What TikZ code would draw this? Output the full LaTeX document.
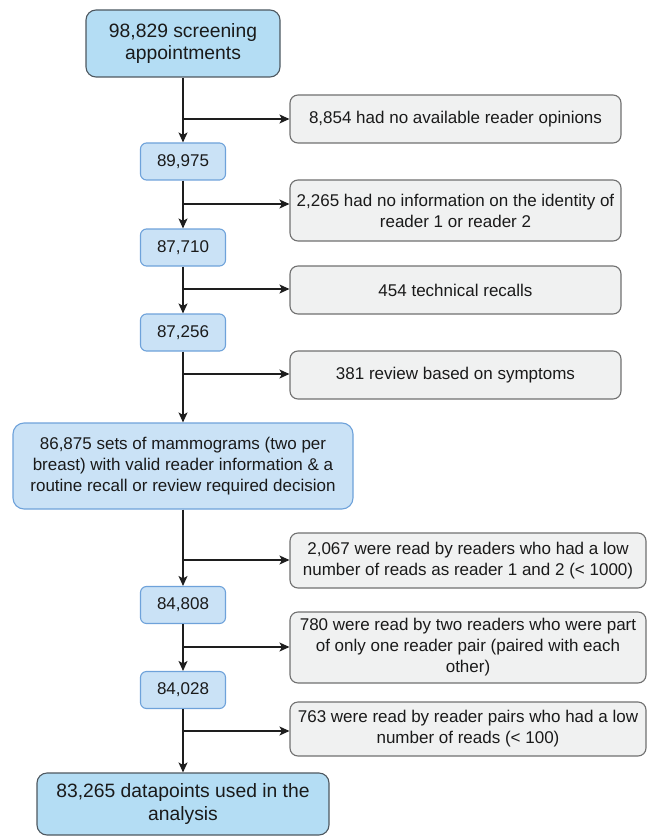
\documentclass[tikz,border=0pt]{standalone}
\usepackage{fontspec}
\setmainfont{Liberation Sans}
\usetikzlibrary{arrows.meta}
\definecolor{endfill}{HTML}{B4DDF4}
\definecolor{enddraw}{HTML}{4E5860}
\definecolor{midfill}{HTML}{CAE2F6}
\definecolor{middraw}{HTML}{6EA2DA}
\definecolor{sidefill}{HTML}{F0F1F1}
\definecolor{sidedraw}{HTML}{707070}
\definecolor{linecol}{HTML}{1E1E1E}
\definecolor{txt}{HTML}{1A1A1A}
\tikzset{
  base/.style={rectangle, inner sep=0pt, align=center, text=txt, line width=1.1pt,
    font=\fontsize{17}{21}\selectfont},
  endbox/.style={base, fill=endfill, draw=enddraw, rounded corners=10pt,
    font=\fontsize{19.3}{22.5}\selectfont},
  numbox/.style={base, fill=midfill, draw=middraw, rounded corners=6pt,
    minimum width=85pt, minimum height=37pt},
  bigbox/.style={base, fill=midfill, draw=middraw, rounded corners=11pt},
  sidebox/.style={base, fill=sidefill, draw=sidedraw, rounded corners=8pt},
  flow/.style={draw=linecol, line width=1.3pt, -{Stealth[length=10pt,width=9pt,inset=2.5pt]}},
}
\begin{document}
\begin{tikzpicture}[x=1pt,y=-1pt]
\useasboundingbox (0,0) rectangle (648,837);

% main column
\node[endbox, minimum width=194pt, minimum height=67pt] (top) at (183,43.5)
  {98,829 screening\\appointments};
\node[numbox] (n1) at (183,161.5) {89,975};
\node[numbox] (n2) at (183,247.5) {87,710};
\node[numbox] (n3) at (183,332.5) {87,256};
\node[bigbox, minimum width=340pt, minimum height=86pt] (big) at (183,466)
  {86,875 sets of mammograms (two per\\breast) with valid reader information \& a\\routine recall or review required decision};
\node[numbox] (n4) at (183,605) {84,808};
\node[numbox] (n5) at (183,690) {84,028};
\node[endbox, minimum width=292pt, minimum height=62pt] (fin) at (183,804)
  {83,265 datapoints used in the\\analysis};

% side boxes
\node[sidebox, minimum width=331pt, minimum height=48pt] (s1) at (455.5,119)
  {8,854 had no available reader opinions};
\node[sidebox, minimum width=331pt, minimum height=61pt] (s2) at (455.5,210.5)
  {2,265 had no information on the identity of\\reader 1 or reader 2};
\node[sidebox, minimum width=331pt, minimum height=48pt] (s3) at (455.5,290)
  {454 technical recalls};
\node[sidebox, minimum width=331pt, minimum height=48pt] (s4) at (455.5,375)
  {381 review based on symptoms};
\node[sidebox, minimum width=356pt, minimum height=55pt] (s5) at (468,560.5)
  {2,067 were read by readers who had a low\\number of reads as reader 1 and 2 (< 1000)};
\node[sidebox, minimum width=356pt, minimum height=71pt] (s6) at (468,647.5)
  {780 were read by two readers who were part\\of only one reader pair (paired with each\\other)};
\node[sidebox, minimum width=356pt, minimum height=54pt] (s7) at (468,729)
  {763 were read by reader pairs who had a low\\number of reads (< 100)};

% branch points
\coordinate (b1) at (183,119);
\coordinate (b2) at (183,204);
\coordinate (b3) at (183,289);
\coordinate (b4) at (183,374);
\coordinate (b5) at (183,560);
\coordinate (b6) at (183,647);
\coordinate (b7) at (183,731);

% vertical connectors
\draw[flow] (top) -- (n1);
\draw[flow] (n1) -- (n2);
\draw[flow] (n2) -- (n3);
\draw[flow] (n3) -- (big);
\draw[flow] (big) -- (n4);
\draw[flow] (n4) -- (n5);
\draw[flow] (n5) -- (fin);

% side connectors
\draw[flow] (b1) -- (b1 -| s1.west);
\draw[flow] (b2) -- (b2 -| s2.west);
\draw[flow] (b3) -- (b3 -| s3.west);
\draw[flow] (b4) -- (b4 -| s4.west);
\draw[flow] (b5) -- (b5 -| s5.west);
\draw[flow] (b6) -- (b6 -| s6.west);
\draw[flow] (b7) -- (b7 -| s7.west);
\end{tikzpicture}
\end{document}
